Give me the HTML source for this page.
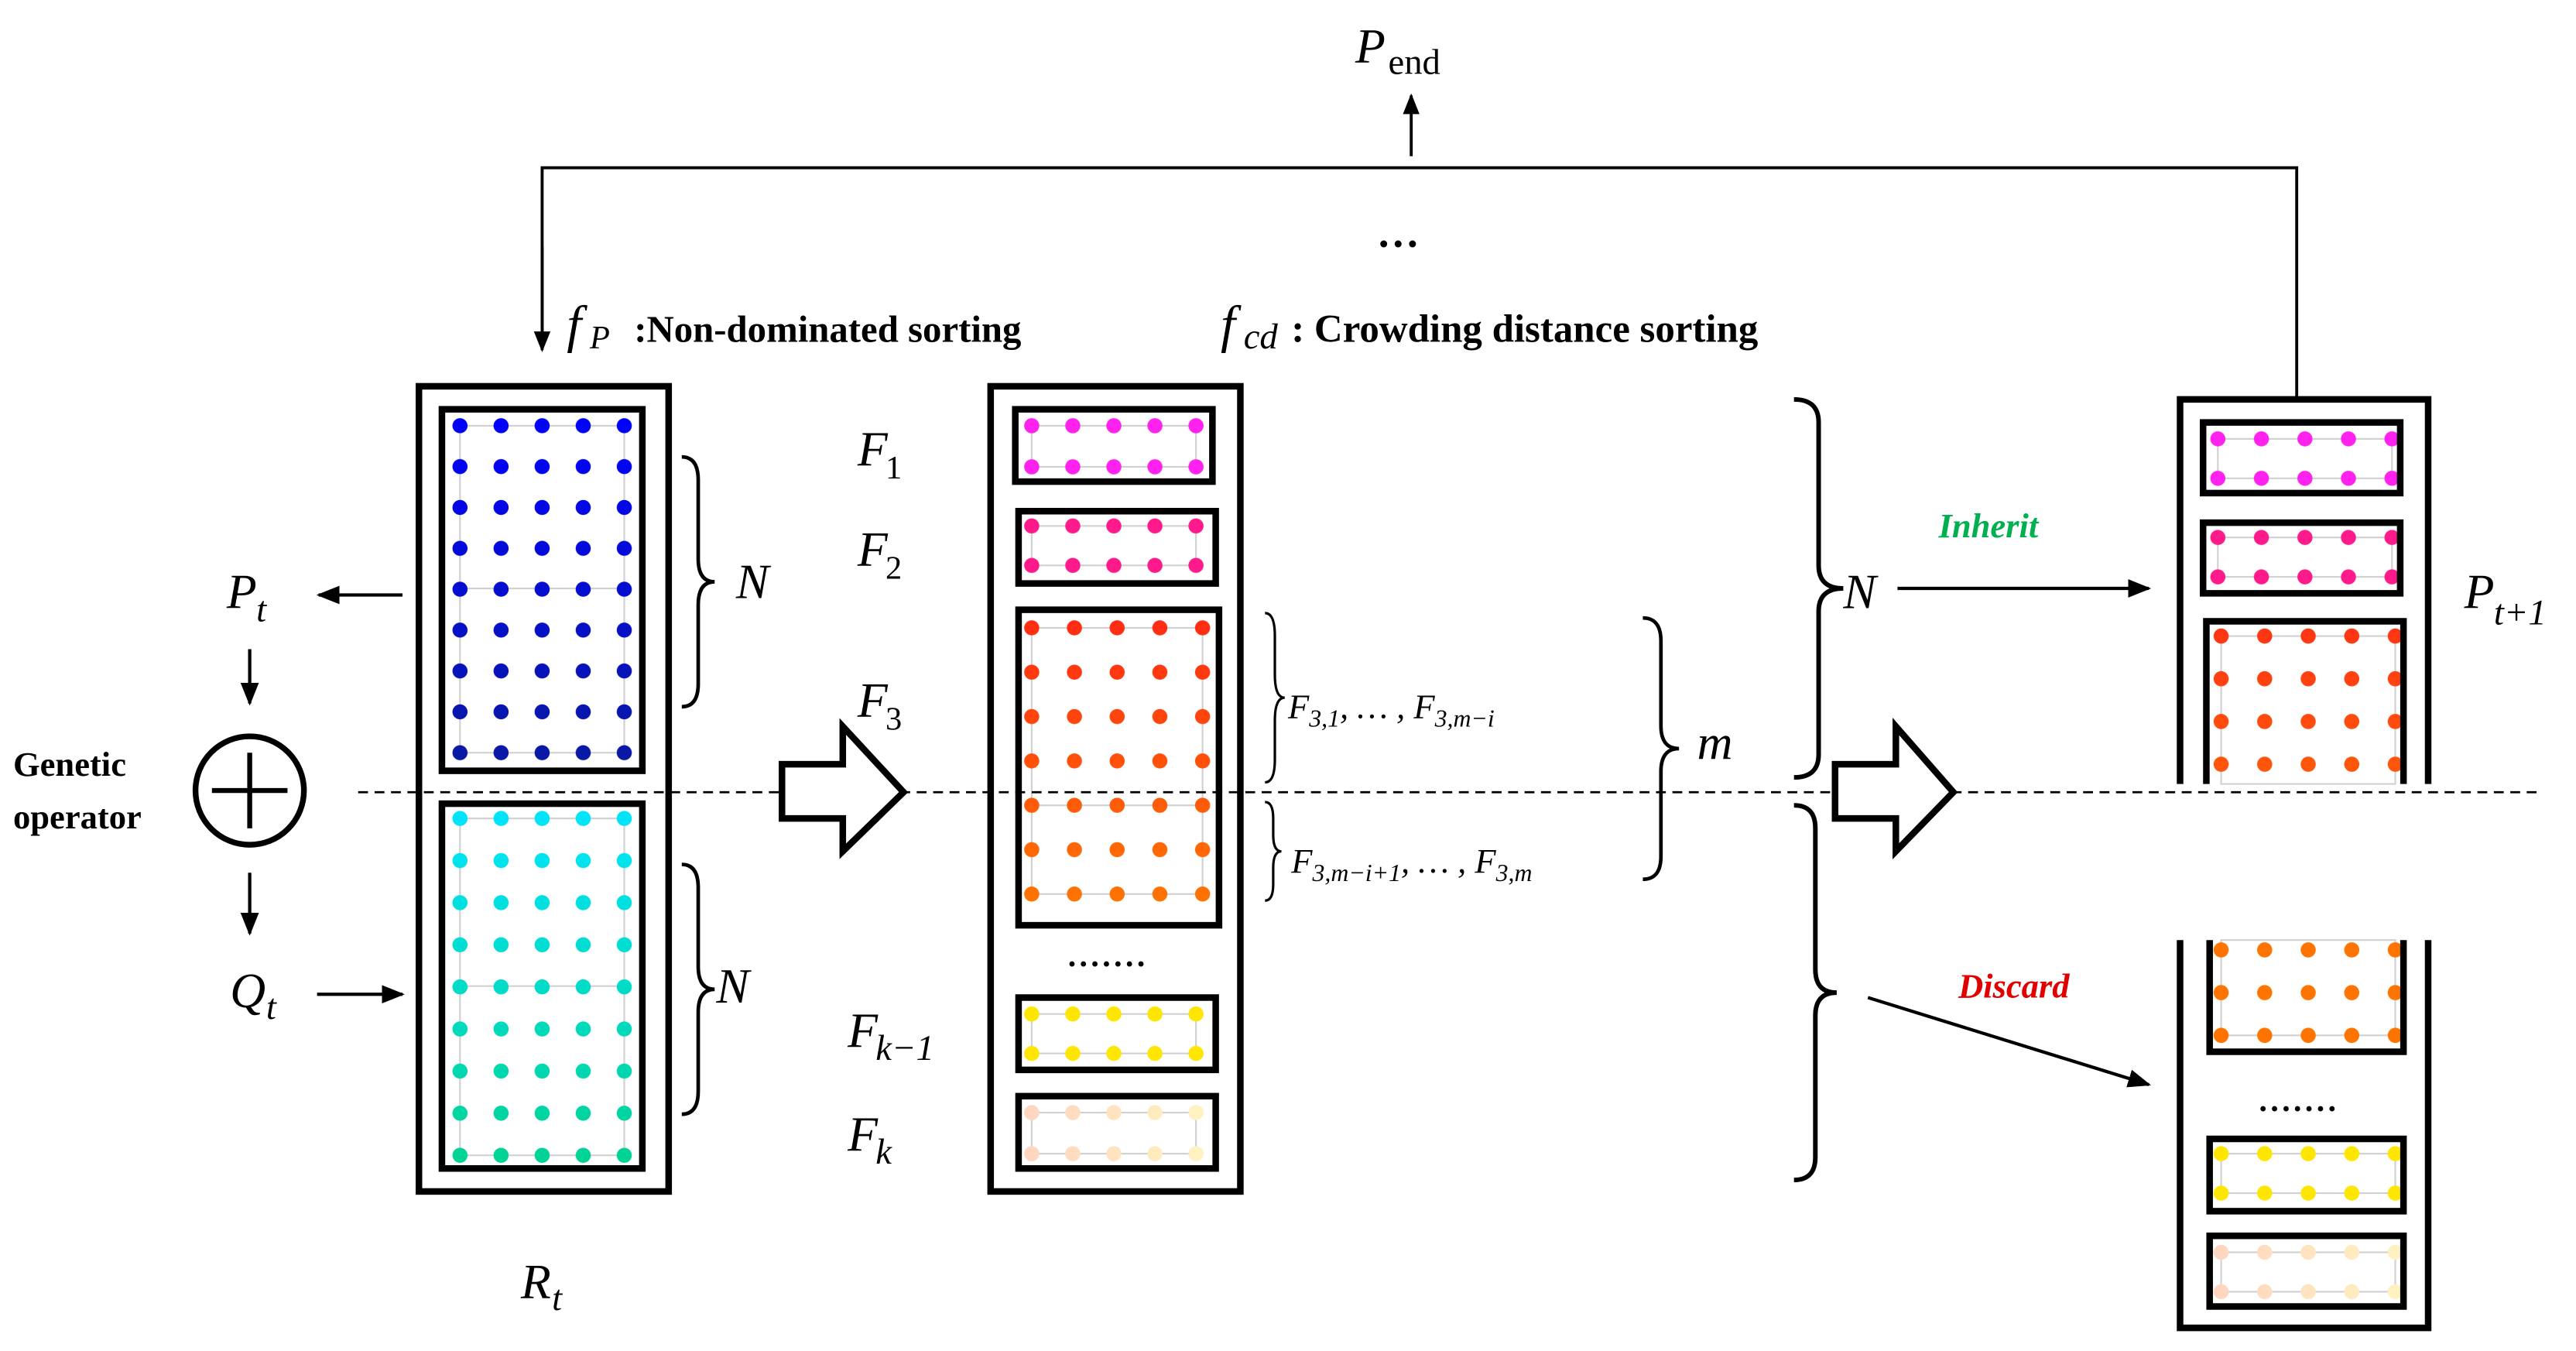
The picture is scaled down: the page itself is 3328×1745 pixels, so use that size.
<!DOCTYPE html>
<html><head><meta charset="utf-8"><style>
html,body{margin:0;padding:0;background:#fff;width:3328px;height:1745px;overflow:hidden}
svg{display:block}
.m{font-family:"Liberation Serif",serif;font-style:italic}
.b{font-family:"Liberation Serif",serif;font-weight:bold}
</style></head><body>
<svg width="3328" height="1745" viewBox="0 0 1568 822" xmlns="http://www.w3.org/2000/svg">
<defs>
<marker id="ar" viewBox="0 0 10 10" refX="9" refY="5" markerWidth="7" markerHeight="7" orient="auto"><path d="M0,1 L10,5 L0,9 z" fill="#000"/></marker>
<!-- patterns -->
<pattern id="p1" patternUnits="userSpaceOnUse" x="267.5" y="246.56" width="25" height="24.875"><circle cx="12.5" cy="12.44" r="4.6" fill="#fff"/></pattern>
<pattern id="p2" patternUnits="userSpaceOnUse" x="267.5" y="485.19" width="25" height="25.625"><circle cx="12.5" cy="12.81" r="4.6" fill="#fff"/></pattern>
<pattern id="p3" patternUnits="userSpaceOnUse" x="615.5" y="246.5" width="25" height="25"><circle cx="12.5" cy="12.5" r="4.6" fill="#fff"/></pattern>
<pattern id="p4" patternUnits="userSpaceOnUse" x="615.5" y="308" width="25" height="24"><circle cx="12.5" cy="12" r="4.6" fill="#fff"/></pattern>
<pattern id="p5" patternUnits="userSpaceOnUse" x="615" y="368.5" width="26" height="27"><circle cx="13" cy="13.5" r="4.6" fill="#fff"/></pattern>
<pattern id="p6" patternUnits="userSpaceOnUse" x="615.5" y="605" width="25" height="24"><circle cx="12.5" cy="12" r="4.6" fill="#fff"/></pattern>
<pattern id="p7" patternUnits="userSpaceOnUse" x="615.5" y="664.5" width="25" height="25"><circle cx="12.5" cy="12.5" r="4.6" fill="#fff"/></pattern>
<pattern id="p8" patternUnits="userSpaceOnUse" x="1336.75" y="255" width="26.5" height="24"><circle cx="13.25" cy="12" r="4.6" fill="#fff"/></pattern>
<pattern id="p9" patternUnits="userSpaceOnUse" x="1336.75" y="315" width="26.5" height="24"><circle cx="13.25" cy="12" r="4.6" fill="#fff"/></pattern>
<pattern id="p10" patternUnits="userSpaceOnUse" x="1338.75" y="374" width="26.5" height="26"><circle cx="13.25" cy="13" r="4.6" fill="#fff"/></pattern>
<pattern id="p11" patternUnits="userSpaceOnUse" x="1338.75" y="565" width="26.5" height="26"><circle cx="13.25" cy="13" r="4.6" fill="#fff"/></pattern>
<pattern id="p12" patternUnits="userSpaceOnUse" x="1338.75" y="690" width="26.5" height="24"><circle cx="13.25" cy="12" r="4.6" fill="#fff"/></pattern>
<pattern id="p13" patternUnits="userSpaceOnUse" x="1338.75" y="750" width="26.5" height="24"><circle cx="13.25" cy="12" r="4.6" fill="#fff"/></pattern>
<mask id="k1"><rect x="267.5" y="246.56" width="125" height="223.9" fill="url(#p1)"/></mask>
<mask id="k2"><rect x="267.5" y="485.19" width="125" height="230.6" fill="url(#p2)"/></mask>
<mask id="k3"><rect x="615.5" y="246.5" width="125" height="50" fill="url(#p3)"/></mask>
<mask id="k4"><rect x="615.5" y="308" width="125" height="48" fill="url(#p4)"/></mask>
<mask id="k5"><rect x="615" y="368.5" width="130" height="189" fill="url(#p5)"/></mask>
<mask id="k6"><rect x="615.5" y="605" width="125" height="48" fill="url(#p6)"/></mask>
<mask id="k7"><rect x="615.5" y="664.5" width="125" height="50" fill="url(#p7)"/></mask>
<mask id="k8"><rect x="1336.75" y="255" width="132.5" height="48" fill="url(#p8)"/></mask>
<mask id="k9"><rect x="1336.75" y="315" width="132.5" height="48" fill="url(#p9)"/></mask>
<mask id="k10"><rect x="1338.75" y="374" width="132.5" height="104" fill="url(#p10)"/></mask>
<mask id="k11"><rect x="1338.75" y="565" width="132.5" height="78" fill="url(#p11)"/></mask>
<mask id="k12"><rect x="1338.75" y="690" width="132.5" height="48" fill="url(#p12)"/></mask>
<mask id="k13"><rect x="1338.75" y="750" width="132.5" height="48" fill="url(#p13)"/></mask>
<linearGradient id="gB" x1="0" y1="0" x2="0" y2="1"><stop offset="0" stop-color="#0000ff"/><stop offset="1" stop-color="#0a1aa0"/></linearGradient>
<linearGradient id="gC" x1="0" y1="0" x2="0" y2="1"><stop offset="0" stop-color="#00e5ff"/><stop offset="1" stop-color="#00d290"/></linearGradient>
<linearGradient id="gR" x1="0" y1="0" x2="0" y2="1"><stop offset="0" stop-color="#ff2814"/><stop offset="1" stop-color="#ff7800"/></linearGradient>
<linearGradient id="gR2" x1="0" y1="0" x2="0" y2="1"><stop offset="0" stop-color="#ff3214"/><stop offset="1" stop-color="#ff5a0a"/></linearGradient>
<linearGradient id="gK" x1="0" y1="0" x2="1" y2="0"><stop offset="0" stop-color="#ffd2c0"/><stop offset="1" stop-color="#fff5c0"/></linearGradient>
</defs>

<!-- dots -->
<g stroke="#d0d0d0" stroke-width="1" fill="none">
<rect x="280" y="259" width="100" height="199"/><line x1="280" y1="358" x2="380" y2="358"/>
<rect x="280" y="498" width="100" height="205"/><line x1="280" y1="600" x2="380" y2="600"/>
<rect x="628" y="259" width="100" height="25"/><rect x="628" y="320" width="100" height="24"/>
<rect x="628" y="382" width="104" height="162"/><line x1="628" y1="490" x2="732" y2="490"/>
<rect x="628" y="617" width="100" height="24"/><rect x="628" y="677" width="100" height="25"/>
<rect x="1350" y="267" width="106" height="24"/><rect x="1350" y="327" width="106" height="24"/>
<rect x="1352" y="387" width="106" height="90"/><rect x="1352" y="572" width="106" height="58"/>
<rect x="1352" y="702" width="106" height="24"/><rect x="1352" y="762" width="106" height="24"/>
</g>
<rect x="267.5" y="246.56" width="125" height="223.9" fill="url(#gB)" mask="url(#k1)"/>
<rect x="267.5" y="485.19" width="125" height="230.6" fill="url(#gC)" mask="url(#k2)"/>
<rect x="615.5" y="246.5" width="125" height="50" fill="#ff22ee" mask="url(#k3)"/>
<rect x="615.5" y="308" width="125" height="48" fill="#ff1a8c" mask="url(#k4)"/>
<rect x="615" y="368.5" width="130" height="189" fill="url(#gR)" mask="url(#k5)"/>
<rect x="615.5" y="605" width="125" height="48" fill="#ffe600" mask="url(#k6)"/>
<rect x="615.5" y="664.5" width="125" height="50" fill="url(#gK)" mask="url(#k7)"/>
<rect x="1336.75" y="255" width="132.5" height="48" fill="#ff22ee" mask="url(#k8)"/>
<rect x="1336.75" y="315" width="132.5" height="48" fill="#ff1a8c" mask="url(#k9)"/>
<rect x="1338.75" y="374" width="132.5" height="104" fill="url(#gR2)" mask="url(#k10)"/>
<rect x="1338.75" y="565" width="132.5" height="78" fill="#ff7400" mask="url(#k11)"/>
<rect x="1338.75" y="690" width="132.5" height="48" fill="#ffe600" mask="url(#k12)"/>
<rect x="1338.75" y="750" width="132.5" height="48" fill="url(#gK)" mask="url(#k13)"/>

<g fill="none" stroke="#000">
<polyline points="330,212 330,102 1398,102 1398,243" stroke-width="1.8"/>
<line x1="330" y1="150" x2="330" y2="213" stroke-width="1.8" marker-end="url(#ar)"/>
<line x1="859" y1="95" x2="859" y2="58" stroke-width="1.8" marker-end="url(#ar)"/>
<line x1="218" y1="482" x2="1545" y2="482" stroke-width="1.3" stroke-dasharray="6,4"/>
<line x1="245" y1="362" x2="194" y2="362" stroke-width="2" marker-end="url(#ar)"/>
<line x1="152" y1="395" x2="152" y2="428" stroke-width="2" marker-end="url(#ar)"/>
<circle cx="152" cy="481" r="33" stroke-width="3.5"/>
<line x1="129" y1="481" x2="175" y2="481" stroke-width="3"/>
<line x1="152" y1="458" x2="152" y2="504" stroke-width="3"/>
<line x1="152" y1="531" x2="152" y2="568" stroke-width="2" marker-end="url(#ar)"/>
<line x1="193" y1="605" x2="245" y2="605" stroke-width="2" marker-end="url(#ar)"/>
<path d="M476,465 L513,465 L513,442 L550,482 L513,518 L513,498 L476,498 Z" stroke-width="4" fill="#fff"/>
<path d="M1117,465 L1154,465 L1154,442 L1189,482 L1154,518 L1154,498 L1117,498 Z" stroke-width="4" fill="#fff"/>
<line x1="1155" y1="358" x2="1308" y2="358" stroke-width="2" marker-end="url(#ar)"/>
<line x1="1137" y1="607" x2="1308" y2="660" stroke-width="2" marker-end="url(#ar)"/>

<!-- boxes -->
<g stroke-width="4">
<rect x="255" y="235" width="152" height="490"/>
<rect x="269" y="249" width="122" height="220"/>
<rect x="269" y="489" width="122" height="222"/>
<rect x="603" y="235" width="152" height="490"/>
<rect x="618" y="249" width="120" height="44"/>
<rect x="620" y="311" width="120" height="44"/>
<rect x="620" y="371" width="122" height="192"/>
<rect x="620" y="607" width="120" height="44"/>
<rect x="620" y="667" width="120" height="44"/>
<polyline points="1327,477 1327,243 1478,243 1478,477"/>
<rect x="1341" y="257" width="120" height="43"/>
<rect x="1341" y="318" width="120" height="43"/>
<polyline points="1343,477 1343,378 1463,378 1463,477"/>
<polyline points="1327,572 1327,808 1478,808 1478,572"/>
<polyline points="1345,572 1345,640 1463,640 1463,572"/>
<rect x="1345" y="693" width="118" height="44"/>
<rect x="1345" y="752" width="118" height="43"/>
</g>
<!-- braces -->
<g stroke-width="2.2">
<path d="M415,278 Q425,278 425,292 L425,340 Q425,354 435,354 Q425,354 425,368 L425,416 Q425,430 415,430"/>
<path d="M415,526 Q425,526 425,540 L425,588 Q425,602 435,602 Q425,602 425,616 L425,664 Q425,678 415,678"/>
<path d="M770,373 Q776,373 776,387 L776,410.5 Q776,424.5 782,424.5 Q776,424.5 776,438.5 L776,462 Q776,476 770,476" stroke-width="1.5"/>
<path d="M770,488 Q775,488 775,498 L775,508 Q775,518 780,518 Q775,518 775,528 L775,538 Q775,548 770,548" stroke-width="1.5"/>
<path d="M1000,376 Q1011,376 1011,390 L1011,441.5 Q1011,455.5 1022,455.5 Q1011,455.5 1011,469.5 L1011,521 Q1011,535 1000,535"/>
<path d="M1092,243 Q1107,243 1107,257 L1107,344 Q1107,358 1122,358 Q1107,358 1107,372 L1107,459 Q1107,473 1092,473" stroke-width="2.8"/>
<path d="M1092,490 Q1105,490 1105,504 L1105,590 Q1105,604 1118,604 Q1105,604 1105,618 L1105,704 Q1105,718 1092,718" stroke-width="2.8"/>
</g>
</g>

<text x="825" y="38" class="m" font-size="30">P</text><text x="845" y="45" font-family="Liberation Serif" font-size="22">end</text>
<text x="838" y="150" class="b" font-size="26">…</text>
<text x="345" y="208" class="m" font-size="32">f</text><text x="359" y="212" class="m" font-size="20">P</text>
<text x="386" y="208" class="b" font-size="23">:Non-dominated sorting</text>
<text x="743" y="208" class="m" font-size="32">f</text><text x="757" y="212" class="m" font-size="22">cd</text>
<text x="786" y="208" class="b" font-size="24">: Crowding distance sorting</text>
<text x="138" y="370" class="m" font-size="30">P</text><text x="156" y="378" class="m" font-size="22">t</text>
<text x="140" y="613" class="m" font-size="30">Q</text><text x="162" y="620" class="m" font-size="22">t</text>
<text x="8" y="472" class="b" font-size="21">Genetic</text>
<text x="8" y="504" class="b" font-size="21">operator</text>
<text x="448" y="364" class="m" font-size="30">N</text>
<text x="436" y="610" class="m" font-size="30">N</text>
<text x="317" y="790" class="m" font-size="30">R</text><text x="336" y="797" class="m" font-size="22">t</text>
<text x="522" y="283" class="m" font-size="30">F</text><text x="539" y="291" font-family="Liberation Serif" font-size="20">1</text>
<text x="522" y="344" class="m" font-size="30">F</text><text x="539" y="352" font-family="Liberation Serif" font-size="20">2</text>
<text x="522" y="436" class="m" font-size="30">F</text><text x="539" y="444" font-family="Liberation Serif" font-size="20">3</text>
<text x="516" y="637" class="m" font-size="30">F</text><text x="533" y="645" class="m" font-size="22">k−1</text>
<text x="516" y="700" class="m" font-size="30">F</text><text x="533" y="708" class="m" font-size="22">k</text>
<text x="784" y="437" class="m" font-size="21">F<tspan font-size="15" dy="5">3,1</tspan><tspan dy="-5">, … , F</tspan><tspan font-size="15" dy="5">3,m−i</tspan></text>
<text x="786" y="531" class="m" font-size="21">F<tspan font-size="15" dy="5">3,m−i+1</tspan><tspan dy="-5">, … , F</tspan><tspan font-size="15" dy="5">3,m</tspan></text>
<text x="1033" y="462" class="m" font-size="30">m</text>
<text x="1122" y="370" class="m" font-size="30">N</text>
<text x="1180" y="327" class="b" font-size="21" font-style="italic" fill="#00b050">Inherit</text>
<text x="1192" y="607" class="b" font-size="21" font-style="italic" fill="#e00000">Discard</text>
<text x="1500" y="370" class="m" font-size="30">P</text><text x="1518" y="380" class="m" font-size="22">t+1</text>
<g font-family="Liberation Serif" font-weight="bold" font-size="20">
<text x="650" y="588" letter-spacing="2">.......</text>
<text x="1375" y="676" letter-spacing="2">.......</text>
</g>
</svg>
</body></html>
